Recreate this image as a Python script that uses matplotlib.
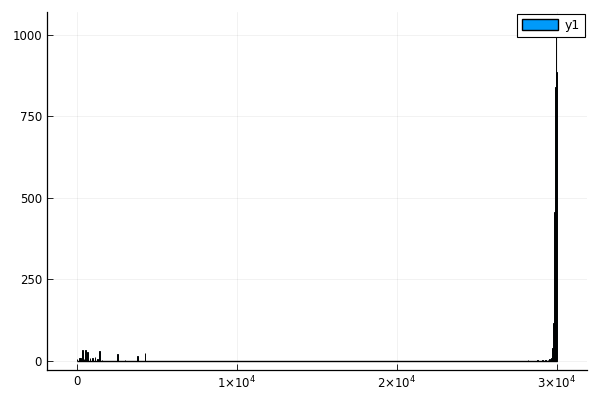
import matplotlib.pyplot as plt
import numpy as np
from matplotlib.ticker import FuncFormatter
from matplotlib.patches import Patch

# bin centers and counts
low_x = [0, 145, 230, 333, 450, 540, 666, 810, 958, 1125, 1270, 1395, 1562, 2520, 3000, 3793, 4250]
low_y = [6, 8, 10, 34, 6, 34, 27, 10, 8, 13, 5, 30, 2, 21, 3, 15, 25]

tail_x = [27900, 28200, 28500, 28800, 29100, 29300, 29450, 29550, 29650, 29700, 29750]
tail_y = [1, 2, 1, 2, 2, 3, 3, 5, 8, 12, 38]

peak_x = [29800, 29850, 29900, 29950, 30000]
peak_y = [116, 457, 840, 1040, 886]

xs = np.array(low_x + tail_x + peak_x)
ys = np.array(low_y + tail_y + peak_y)
bin_w = 40

fig = plt.figure(figsize=(6, 4), dpi=100)
ax = fig.add_axes([0.0783, 0.075, 0.8997, 0.895])

ax.bar(xs, ys, width=bin_w, color='#009AFA', edgecolor='black', linewidth=0.7, zorder=3)
# empty bins still show their outline along zero
ax.hlines(0, xs.min() - bin_w / 2, xs.max() + bin_w / 2, color='black', linewidth=1.0, zorder=3)

ax.set_xlim(-1875, 31875)
ax.set_ylim(-28, 1070)
ax.set_xticks([0, 10000, 20000, 30000])
ax.set_yticks([0, 250, 500, 750, 1000])


def xfmt(v, pos):
    if v == 0:
        return '0'
    return r'$%d{\times}10^{4}$' % round(v / 1e4)


ax.xaxis.set_major_formatter(FuncFormatter(xfmt))

ax.grid(True, color='black', alpha=0.07, linewidth=0.5)
ax.set_axisbelow(True)
for s in ['top', 'right']:
    ax.spines[s].set_visible(False)
for s in ['left', 'bottom']:
    ax.spines[s].set_linewidth(0.9)
ax.tick_params(direction='in', length=4, width=0.6, labelsize=8.5)

leg = ax.legend(handles=[Patch(facecolor='#009AFA', edgecolor='black', label='y1')],
                loc='upper right', fancybox=False, framealpha=1, edgecolor='black',
                fontsize=9, borderaxespad=0.15, handlelength=2.9, handleheight=1.0,
                borderpad=0.4, handletextpad=0.5)
leg.get_frame().set_linewidth(0.8)

fig.savefig('out.png')
